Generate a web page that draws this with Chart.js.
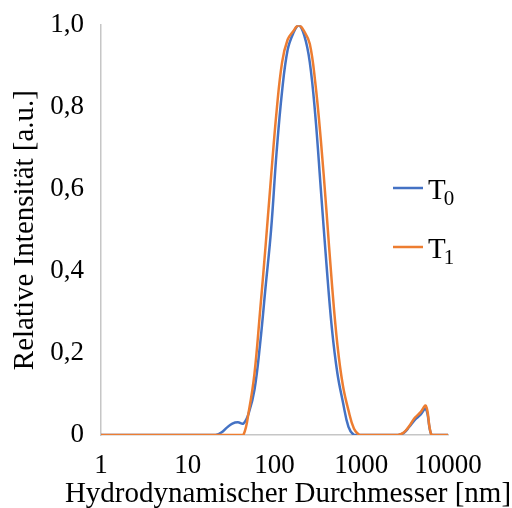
<!DOCTYPE html>
<html>
<head>
<meta charset="utf-8">
<script src="https://cdn.jsdelivr.net/npm/chart.js@4/dist/chart.umd.min.js"></script>
<style>
  html, body { margin: 0; padding: 0; background: #fff; }
  #wrap { width: 512px; height: 508px; }
</style>
</head>
<body>
<div id="wrap"><canvas id="dlsChart" width="512" height="508"></canvas></div>
<script>
// size bins [nm]
const diameters = [0.9649, 1.117, 1.294, 1.499, 1.736, 2.01, 2.328, 2.696, 3.122, 3.615,
  4.187, 4.849, 5.615, 6.503, 7.531, 8.721, 10.1, 11.7, 13.54, 15.69,
  18.17, 21.04, 24.36, 28.21, 32.67, 37.84, 43.82, 50.75, 58.77, 68.06,
  78.82, 91.28, 105.7, 122.4, 141.8, 164.2, 190.1, 220.2, 255.0, 295.3,
  342.0, 396.1, 458.7, 531.2, 615.1, 712.4, 825.0, 955.4, 1106, 1281,
  1484, 1718, 1990, 2305, 2669, 3091, 3580, 4145, 4801, 5560,
  6439, 7456, 8635, 10000];

// relative intensity, T0
const t0 = [0, 0, 0, 0, 0, 0, 0, 0, 0, 0,
  0, 0, 0, 0, 0, 0, 0, 0, 0, 0,
  0, 0, 0.006, 0.018, 0.028, 0.031, 0.028, 0.055, 0.11, 0.22,
  0.36, 0.50, 0.69, 0.84, 0.94, 0.98, 1.0, 0.975, 0.91, 0.78,
  0.60, 0.42, 0.26, 0.15, 0.08, 0.02, 0, 0, 0, 0,
  0, 0, 0, 0, 0, 0.005, 0.02, 0.037, 0.049, 0.064,
  0, 0, 0, 0];

// relative intensity, T1
const t1 = [0, 0, 0, 0, 0, 0, 0, 0, 0, 0,
  0, 0, 0, 0, 0, 0, 0, 0, 0, 0,
  0, 0, 0, 0, 0, 0, 0, 0.06, 0.15, 0.30,
  0.46, 0.63, 0.79, 0.91, 0.965, 0.985, 1.0, 0.985, 0.955, 0.86,
  0.72, 0.55, 0.37, 0.22, 0.12, 0.06, 0.015, 0, 0, 0,
  0, 0, 0, 0, 0, 0.006, 0.022, 0.042, 0.055, 0.071,
  0, 0, 0, 0];

const xTicks = [1, 10, 100, 1000, 10000];
const yTicks = [0, 0.2, 0.4, 0.6, 0.8, 1.0];
const seriesNames = ['0', '1'];   // subscripts of T
const seriesColors = ['#4472C4', '#ED7D31'];

const SERIF = '"Liberation Serif", "Times New Roman", serif';

function toPoints(values) {
  return diameters.map((d, i) => ({ x: d, y: values[i] }));
}

// legend drawn inside the plot, T with subscript
const keyPlugin = {
  id: 'seriesKey',
  afterDraw(chart) {
    const ctx = chart.ctx;
    ctx.save();
    seriesNames.forEach((sub, i) => {
      const y = 188 + i * 59;
      ctx.strokeStyle = seriesColors[i];
      ctx.lineWidth = 2.5;
      ctx.beginPath();
      ctx.moveTo(393, y);
      ctx.lineTo(423, y);
      ctx.stroke();
      ctx.fillStyle = '#000';
      ctx.textBaseline = 'alphabetic';
      ctx.textAlign = 'left';
      ctx.font = '29px ' + SERIF;
      ctx.fillText('T', 428, y + 11);
      const w = ctx.measureText('T').width;
      ctx.font = '21px ' + SERIF;
      ctx.fillText(sub, 428 + w - 2, y + 17);
    });
    ctx.restore();
  }
};

// x axis caption
const captionPlugin = {
  id: 'xCaption',
  afterDraw(chart) {
    const ctx = chart.ctx;
    ctx.save();
    ctx.fillStyle = '#000';
    ctx.font = '29px ' + SERIF;
    ctx.textAlign = 'center';
    ctx.textBaseline = 'alphabetic';
    ctx.fillText('Hydrodynamischer Durchmesser [nm]', 288, 502);
    ctx.restore();
  }
};

new Chart(document.getElementById('dlsChart'), {
  type: 'line',
  data: {
    datasets: [
      {
        label: 'T0',
        data: toPoints(t0),
        borderColor: seriesColors[0],
        borderWidth: 2.5,
        pointRadius: 0,
        tension: 0.4,
        order: 1
      },
      {
        label: 'T1',
        data: toPoints(t1),
        borderColor: seriesColors[1],
        borderWidth: 2.5,
        pointRadius: 0,
        tension: 0.4,
        order: 0
      }
    ]
  },
  options: {
    responsive: false,
    animation: false,
    layout: { padding: { top: 24, right: 64, left: 0, bottom: 0 } },
    plugins: {
      legend: { display: false },
      tooltip: { enabled: false }
    },
    scales: {
      x: {
        type: 'logarithmic',
        min: 1,
        max: 10000,
        grid: { display: false },
        border: { display: true, color: '#c6c6c6', width: 1.5 },
        afterBuildTicks: scale => { scale.ticks = xTicks.map(v => ({ value: v })); },
        afterFit: scale => { scale.height = 73; },
        ticks: {
          autoSkip: false,
          maxRotation: 0,
          padding: 7,
          color: '#000',
          font: { family: SERIF, size: 27 },
          callback: v => String(v)
        }
      },
      y: {
        type: 'linear',
        min: 0,
        max: 1,
        grid: { display: false },
        border: { display: true, color: '#c6c6c6', width: 1.5 },
        afterBuildTicks: scale => { scale.ticks = yTicks.map(v => ({ value: v })); },
        afterFit: scale => { scale.width = 101; },
        ticks: {
          padding: 9,
          color: '#000',
          font: { family: SERIF, size: 27 },
          callback: v => v === 0 ? '0' : v.toFixed(1).replace('.', ',')
        },
        title: {
          display: true,
          text: 'Relative Intensität [a.u.]',
          color: '#000',
          font: { family: SERIF, size: 29 },
          padding: { top: 8, bottom: 0 }
        }
      }
    }
  },
  plugins: [keyPlugin, captionPlugin]
});
</script>
</body>
</html>
